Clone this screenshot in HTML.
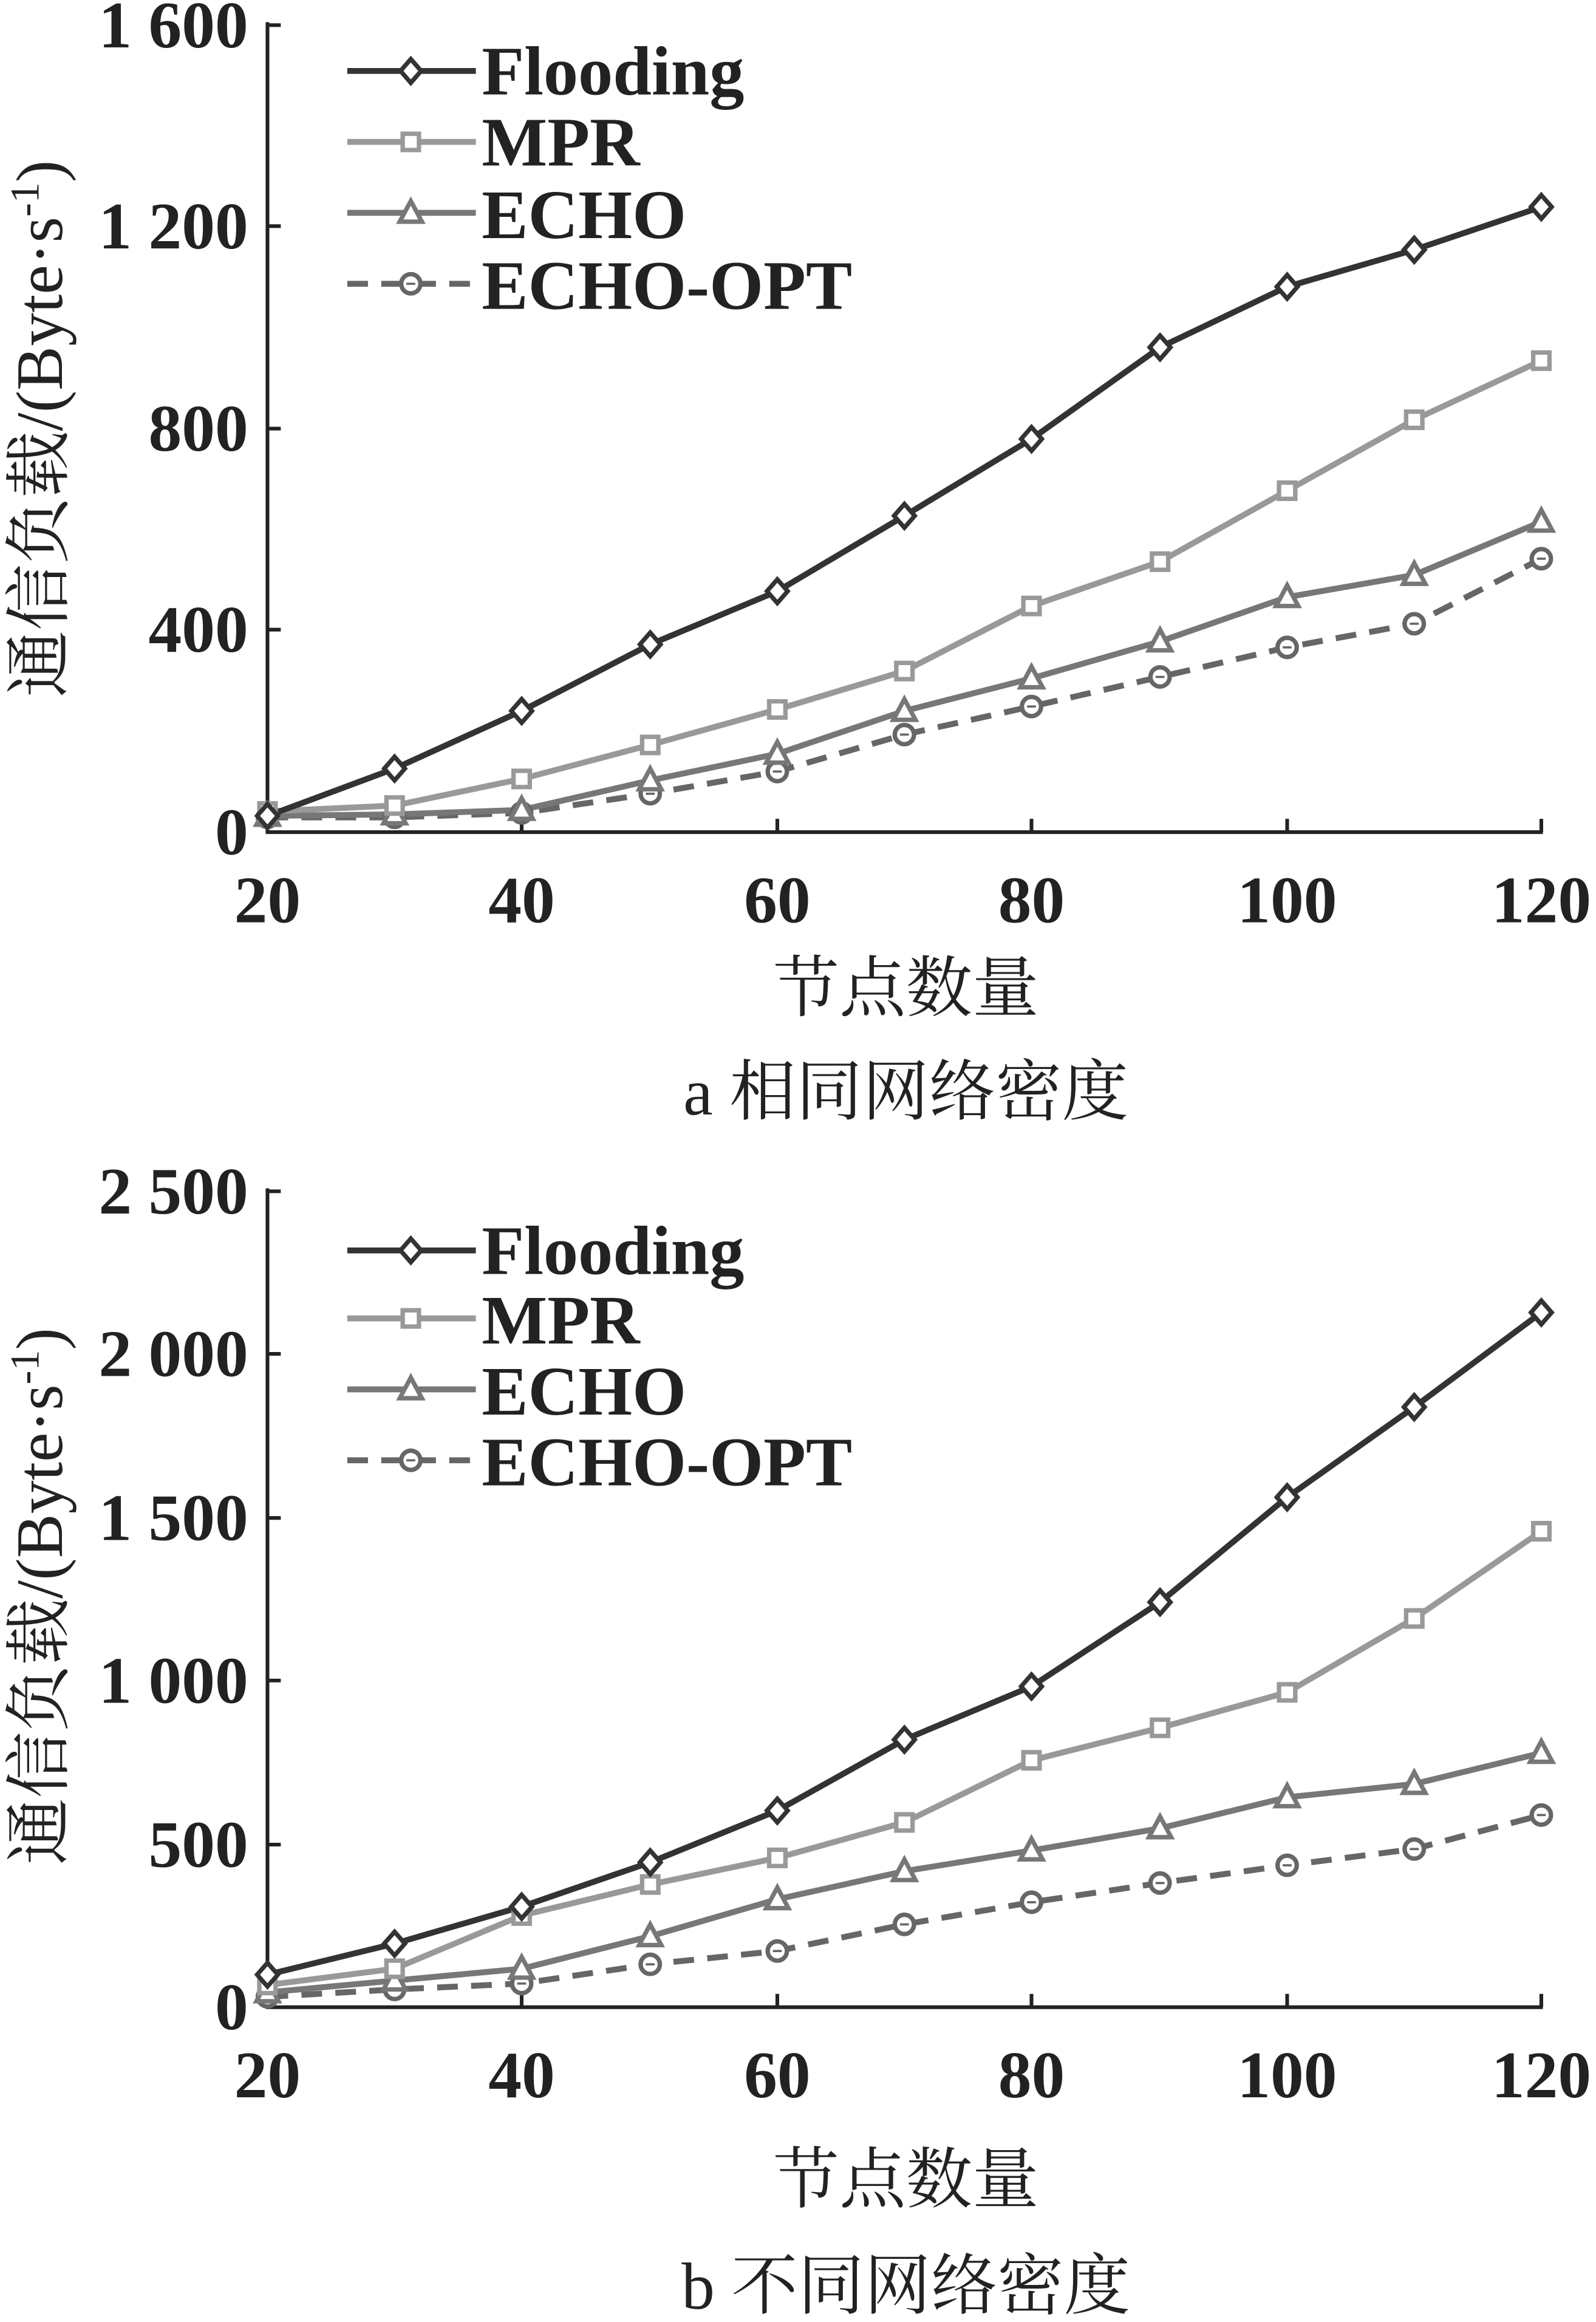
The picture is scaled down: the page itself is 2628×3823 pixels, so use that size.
<!DOCTYPE html>
<html><head><meta charset="utf-8"><style>
html,body{margin:0;padding:0;background:#fff;}
svg{display:block;}
text{font-family:"Liberation Serif","Noto Serif CJK SC",serif;fill:#222;}
.tk{font-weight:bold;}
.lg{font-weight:bold;}
</style></head><body>
<svg width="2628" height="3823" viewBox="0 0 1080 1571" preserveAspectRatio="none" xmlns="http://www.w3.org/2000/svg">
<defs>
<g id="dia"><path d="M0,-8 L7,0 L0,8 L-7,0 Z" fill="#fff" stroke="#333" stroke-width="3"/></g>
<g id="sq"><rect x="-5.5" y="-5.5" width="11" height="11" fill="#fff" stroke="#999" stroke-width="3"/></g>
<g id="tri"><path d="M0,-8 L7.5,6 L-7.5,6 Z" fill="#fff" stroke="#777" stroke-width="3"/></g>
<g id="cir"><circle r="6.5" fill="#fff" stroke="#666" stroke-width="3"/><line x1="-3" y1="0" x2="3" y2="0" stroke="#666" stroke-width="1.5"/></g>
</defs>

<!-- Chart A -->
<g stroke="#222" stroke-width="2.5" fill="none">
<line x1="181" y1="15" x2="181" y2="564"/>
<line x1="180" y1="563" x2="1044" y2="563"/>
<line x1="181" y1="17" x2="190" y2="17"/><line x1="181" y1="153" x2="190" y2="153"/><line x1="181" y1="290" x2="190" y2="290"/><line x1="181" y1="426" x2="190" y2="426"/>
<line x1="353" y1="563" x2="353" y2="554"/><line x1="526" y1="563" x2="526" y2="554"/><line x1="698" y1="563" x2="698" y2="554"/><line x1="871" y1="563" x2="871" y2="554"/><line x1="1043" y1="563" x2="1043" y2="554"/>
</g>
<g font-size="45" text-anchor="end" class="tk">
<text x="168" y="32">1 600</text><text x="168" y="168">1 200</text><text x="168" y="305">800</text><text x="168" y="441">400</text><text x="168" y="578">0</text>
</g>
<g font-size="45" text-anchor="middle" class="tk">
<text x="181" y="624">20</text><text x="353" y="624">40</text><text x="526" y="624">60</text><text x="698" y="624">80</text><text x="871" y="624">100</text><text x="1043" y="624">120</text>
</g>
<g font-size="45" text-anchor="middle">
<text x="613" y="684">节点数量</text>
<text x="613" y="754">a 相同网络密度</text>
</g>
<text font-size="45" text-anchor="middle" transform="translate(42,290) rotate(-90)">通信负载/(Byte·s<tspan font-size="28" dy="-16">-1</tspan><tspan dy="16">)</tspan></text>

<polyline fill="none" stroke="#666" stroke-width="4" stroke-dasharray="14,9" points="181,553 267,553 353,550 440,537 526,522 612,497 698,478 785,458 871,438 957,422 1043,378"/>
<polyline fill="none" stroke="#777" stroke-width="4" points="181,552 267,551 353,548 440,528 526,510 612,481 698,459 785,434 871,404 957,389 1043,353"/>
<polyline fill="none" stroke="#999" stroke-width="4" points="181,549 267,545 353,527 440,504 526,480 612,454 698,410 785,380 871,332 957,284 1043,244"/>
<polyline fill="none" stroke="#333" stroke-width="4" points="181,552 267,520 353,481 440,436 526,400 612,349 698,297 785,235 871,194 957,169 1043,140"/>
<g>
<use href="#cir" x="181" y="553"/><use href="#cir" x="267" y="553"/><use href="#cir" x="353" y="550"/><use href="#cir" x="440" y="537"/><use href="#cir" x="526" y="522"/><use href="#cir" x="612" y="497"/><use href="#cir" x="698" y="478"/><use href="#cir" x="785" y="458"/><use href="#cir" x="871" y="438"/><use href="#cir" x="957" y="422"/><use href="#cir" x="1043" y="378"/>
<use href="#tri" x="181" y="552"/><use href="#tri" x="267" y="551"/><use href="#tri" x="353" y="548"/><use href="#tri" x="440" y="528"/><use href="#tri" x="526" y="510"/><use href="#tri" x="612" y="481"/><use href="#tri" x="698" y="459"/><use href="#tri" x="785" y="434"/><use href="#tri" x="871" y="404"/><use href="#tri" x="957" y="389"/><use href="#tri" x="1043" y="353"/>
<use href="#sq" x="181" y="549"/><use href="#sq" x="267" y="545"/><use href="#sq" x="353" y="527"/><use href="#sq" x="440" y="504"/><use href="#sq" x="526" y="480"/><use href="#sq" x="612" y="454"/><use href="#sq" x="698" y="410"/><use href="#sq" x="785" y="380"/><use href="#sq" x="871" y="332"/><use href="#sq" x="957" y="284"/><use href="#sq" x="1043" y="244"/>
<use href="#dia" x="181" y="552"/><use href="#dia" x="267" y="520"/><use href="#dia" x="353" y="481"/><use href="#dia" x="440" y="436"/><use href="#dia" x="526" y="400"/><use href="#dia" x="612" y="349"/><use href="#dia" x="698" y="297"/><use href="#dia" x="785" y="235"/><use href="#dia" x="871" y="194"/><use href="#dia" x="957" y="169"/><use href="#dia" x="1043" y="140"/>
</g>
<g stroke-width="4">
<line x1="235" y1="48" x2="322" y2="48" stroke="#333"/><use href="#dia" x="278" y="48"/>
<line x1="235" y1="96" x2="322" y2="96" stroke="#999"/><use href="#sq" x="278" y="96"/>
<line x1="235" y1="144" x2="322" y2="144" stroke="#777"/><use href="#tri" x="278" y="144"/>
<line x1="235" y1="192" x2="322" y2="192" stroke="#666" stroke-dasharray="14,9"/><use href="#cir" x="278" y="192"/>
</g>
<g font-size="47" class="lg">
<text x="326" y="64">Flooding</text><text x="326" y="112">MPR</text><text x="326" y="161">ECHO</text><text x="326" y="209">ECHO-OPT</text>
</g>

<!-- Chart B -->
<g stroke="#222" stroke-width="2.5" fill="none">
<line x1="181" y1="804" x2="181" y2="1359"/>
<line x1="180" y1="1358" x2="1044" y2="1358"/>
<line x1="181" y1="806" x2="190" y2="806"/><line x1="181" y1="916" x2="190" y2="916"/><line x1="181" y1="1027" x2="190" y2="1027"/><line x1="181" y1="1137" x2="190" y2="1137"/><line x1="181" y1="1248" x2="190" y2="1248"/>
<line x1="353" y1="1358" x2="353" y2="1349"/><line x1="526" y1="1358" x2="526" y2="1349"/><line x1="698" y1="1358" x2="698" y2="1349"/><line x1="871" y1="1358" x2="871" y2="1349"/><line x1="1043" y1="1358" x2="1043" y2="1349"/>
</g>
<g font-size="45" text-anchor="end" class="tk">
<text x="168" y="821">2 500</text><text x="168" y="931">2 000</text><text x="168" y="1042">1 500</text><text x="168" y="1152">1 000</text><text x="168" y="1263">500</text><text x="168" y="1373">0</text>
</g>
<g font-size="45" text-anchor="middle" class="tk">
<text x="181" y="1419">20</text><text x="353" y="1419">40</text><text x="526" y="1419">60</text><text x="698" y="1419">80</text><text x="871" y="1419">100</text><text x="1043" y="1419">120</text>
</g>
<g font-size="45" text-anchor="middle">
<text x="613" y="1490">节点数量</text>
<text x="613" y="1562">b 不同网络密度</text>
</g>
<text font-size="45" text-anchor="middle" transform="translate(42,1080) rotate(-90)">通信负载/(Byte·s<tspan font-size="28" dy="-16">-1</tspan><tspan dy="16">)</tspan></text>

<polyline fill="none" stroke="#666" stroke-width="4" stroke-dasharray="14,9" points="181,1351 267,1346 353,1342 440,1329 526,1320 612,1302 698,1287 785,1274 871,1262 957,1251 1043,1228"/>
<polyline fill="none" stroke="#777" stroke-width="4" points="181,1348 267,1340 353,1332 440,1310 526,1285 612,1266 698,1252 785,1237 871,1216 957,1207 1043,1186"/>
<polyline fill="none" stroke="#999" stroke-width="4" points="181,1343 267,1332 353,1296 440,1275 526,1257 612,1233 698,1191 785,1169 871,1145 957,1095 1043,1036"/>
<polyline fill="none" stroke="#333" stroke-width="4" points="181,1336 267,1315 353,1290 440,1260 526,1225 612,1177 698,1141 785,1084 871,1013 957,952 1043,888"/>
<g>
<use href="#cir" x="181" y="1351"/><use href="#cir" x="267" y="1346"/><use href="#cir" x="353" y="1342"/><use href="#cir" x="440" y="1329"/><use href="#cir" x="526" y="1320"/><use href="#cir" x="612" y="1302"/><use href="#cir" x="698" y="1287"/><use href="#cir" x="785" y="1274"/><use href="#cir" x="871" y="1262"/><use href="#cir" x="957" y="1251"/><use href="#cir" x="1043" y="1228"/>
<use href="#tri" x="181" y="1348"/><use href="#tri" x="267" y="1340"/><use href="#tri" x="353" y="1332"/><use href="#tri" x="440" y="1310"/><use href="#tri" x="526" y="1285"/><use href="#tri" x="612" y="1266"/><use href="#tri" x="698" y="1252"/><use href="#tri" x="785" y="1237"/><use href="#tri" x="871" y="1216"/><use href="#tri" x="957" y="1207"/><use href="#tri" x="1043" y="1186"/>
<use href="#sq" x="181" y="1343"/><use href="#sq" x="267" y="1332"/><use href="#sq" x="353" y="1296"/><use href="#sq" x="440" y="1275"/><use href="#sq" x="526" y="1257"/><use href="#sq" x="612" y="1233"/><use href="#sq" x="698" y="1191"/><use href="#sq" x="785" y="1169"/><use href="#sq" x="871" y="1145"/><use href="#sq" x="957" y="1095"/><use href="#sq" x="1043" y="1036"/>
<use href="#dia" x="181" y="1336"/><use href="#dia" x="267" y="1315"/><use href="#dia" x="353" y="1290"/><use href="#dia" x="440" y="1260"/><use href="#dia" x="526" y="1225"/><use href="#dia" x="612" y="1177"/><use href="#dia" x="698" y="1141"/><use href="#dia" x="785" y="1084"/><use href="#dia" x="871" y="1013"/><use href="#dia" x="957" y="952"/><use href="#dia" x="1043" y="888"/>
</g>
<g stroke-width="4">
<line x1="235" y1="846" x2="322" y2="846" stroke="#333"/><use href="#dia" x="278" y="846"/>
<line x1="235" y1="892" x2="322" y2="892" stroke="#999"/><use href="#sq" x="278" y="892"/>
<line x1="235" y1="940" x2="322" y2="940" stroke="#777"/><use href="#tri" x="278" y="940"/>
<line x1="235" y1="988" x2="322" y2="988" stroke="#666" stroke-dasharray="14,9"/><use href="#cir" x="278" y="988"/>
</g>
<g font-size="47" class="lg">
<text x="326" y="862">Flooding</text><text x="326" y="909">MPR</text><text x="326" y="957">ECHO</text><text x="326" y="1005">ECHO-OPT</text>
</g>
</svg>
</body></html>
